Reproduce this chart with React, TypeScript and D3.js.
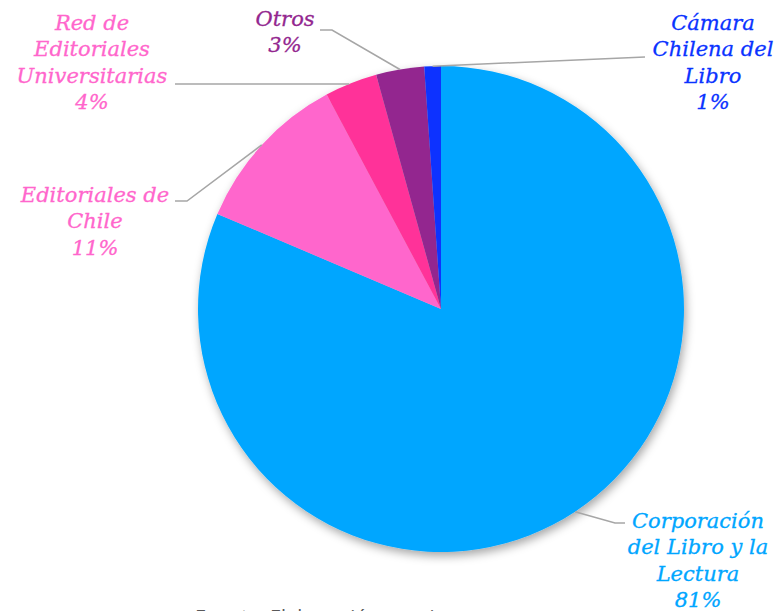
import React from "react";
import * as d3 from "d3";

// participacion por institucion (%)
const categories = [
  "Corporación del Libro y la Lectura",
  "Editoriales de Chile",
  "Red de Editoriales Universitarias",
  "Otros",
  "Cámara Chilena del Libro",
];
const values = [81.4, 10.8, 3.5, 3.2, 1.1];
const pctLabels = ["81%", "11%", "4%", "3%", "1%"];
const sliceColors = ["#00A6FF", "#FF66CC", "#FF3399", "#93278F", "#0A33FF"];
const labelColors = ["#00A6FF", "#FF66CC", "#FF66CC", "#93278F", "#0A33FF"];
const labelLines = [
  ["Corporación", "del Libro y la", "Lectura"],
  ["Editoriales de", "Chile"],
  ["Red de", "Editoriales", "Universitarias"],
  ["Otros"],
  ["Cámara", "Chilena del", "Libro"],
];

const W = 780;
const H = 611;
const cx = 441;
const cy = 309;
const R = 243;
const lineH = 26.5;

// label placement: text centre x, first-line centre y, leader elbow points (from slice to label)
const labelLayout = [
  { x: 698, y: 520, leader: [[615, 523], [625, 523]] },
  { x: 95, y: 194, leader: [[187, 201], [175, 201]] },
  { x: 92, y: 22, leader: [[175, 84]], horizontal: true },
  { x: 285, y: 18, leader: [[332, 30], [320, 30]] },
  { x: 713, y: 22, leader: [[645, 57]] },
];

export default function App() {
  const pie = d3.pie<number>().sort(null).value((d) => d);
  const arcs = pie(values);
  const arc = d3.arc<d3.PieArcDatum<number>>().innerRadius(0).outerRadius(R);

  return (
    <svg
      width={W}
      height={H}
      style={{ position: "absolute", left: 0, top: 0, display: "block", background: "#fff" }}
    >
      <defs>
        <filter id="shadow" x="-20%" y="-20%" width="140%" height="140%">
          <feDropShadow dx="2" dy="4" stdDeviation="5" floodColor="#000" floodOpacity="0.35" />
        </filter>
      </defs>
      <g transform={`translate(${cx},${cy})`} filter="url(#shadow)">
        {arcs.map((a, i) => (
          <path key={i} d={arc(a) || ""} fill={sliceColors[i]} />
        ))}
      </g>
      {arcs.map((a, i) => {
        const lay = labelLayout[i];
        const mid = (a.startAngle + a.endAngle) / 2;
        let sx = cx + R * Math.sin(mid);
        let sy = cy - R * Math.cos(mid);
        if (lay.horizontal) {
          sy = lay.leader[0][1];
          sx = cx - Math.sqrt(R * R - (cy - sy) * (cy - sy));
        }
        const pts: [number, number][] = [[sx, sy], ...(lay.leader as [number, number][])];
        return (
          <path
            key={"l" + i}
            d={d3.line()(pts) || ""}
            fill="none"
            stroke="#A6A6A6"
            strokeWidth={1.5}
          />
        );
      })}
      {labelLayout.map((lay, i) => {
        const lines = [...labelLines[i], pctLabels[i]];
        return (
          <text
            key={"t" + i}
            textAnchor="middle"
            fontFamily="'DejaVu Serif', serif"
            fontStyle="italic"
            fontSize={21}
            fill={labelColors[i]}
            stroke={labelColors[i]}
            strokeWidth={0.3}
          >
            {lines.map((t, j) => (
              <tspan key={j} x={lay.x} y={lay.y + j * lineH} dy="0.36em">
                {t}
              </tspan>
            ))}
          </text>
        );
      })}
      <text x={195} y={624} fontFamily="'Open Sans', sans-serif" fontSize={20} fill="#595959">
        Fuente: Elaboración propia
      </text>
    </svg>
  );
}
